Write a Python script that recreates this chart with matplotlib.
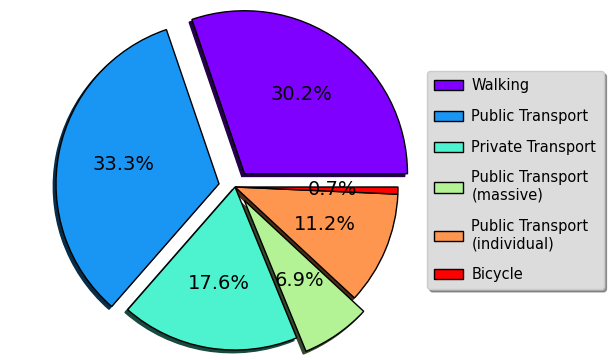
import matplotlib
matplotlib.use("Agg")
import matplotlib.pyplot as plt
import numpy as np

labels = ["Walking", "Public Transport", "Private Transport",
          "Public Transport\n(massive)", "Public Transport\n(individual)", "Bicycle"]
values = [30.2, 33.3, 17.6, 6.9, 11.2, 0.7]
explode = [0.1, 0.1, 0.0, 0.1, 0.0, 0.0]

colors = plt.cm.rainbow(np.linspace(0, 1, len(values)))

fig = plt.figure(figsize=(6.09, 3.6), dpi=100)
W, H = 609, 360
cx, cy, r = 235, 360 - 187, 163
side = 2.5 * r
ax = fig.add_axes([(cx - side / 2) / W, (cy - side / 2) / H, side / W, side / H])

wedges, texts, autotexts = ax.pie(values, explode=explode, colors=colors,
                                  autopct="%1.1f%%",
                                  shadow={"ox": -0.012, "oy": -0.012, "shade": 0.7, "alpha": 1},
                                  startangle=0, pctdistance=0.6,
                                  wedgeprops=dict(edgecolor="black", linewidth=1),
                                  textprops=dict(fontsize=14))
ax.set_xlim(-1.25, 1.25)
ax.set_ylim(-1.25, 1.25)
ax.set_aspect("equal")

leg = fig.legend(wedges, labels, loc="center left", bbox_to_anchor=(427 / W, 0.5),
                 borderaxespad=0, fontsize=10.5, labelspacing=1.08, handlelength=2.0,
                 handletextpad=0.55, borderpad=0.5, shadow=True, fancybox=True,
                 framealpha=1, facecolor="#dcdcdc", edgecolor="#cccccc")

fig.savefig("out.png", dpi=100)
